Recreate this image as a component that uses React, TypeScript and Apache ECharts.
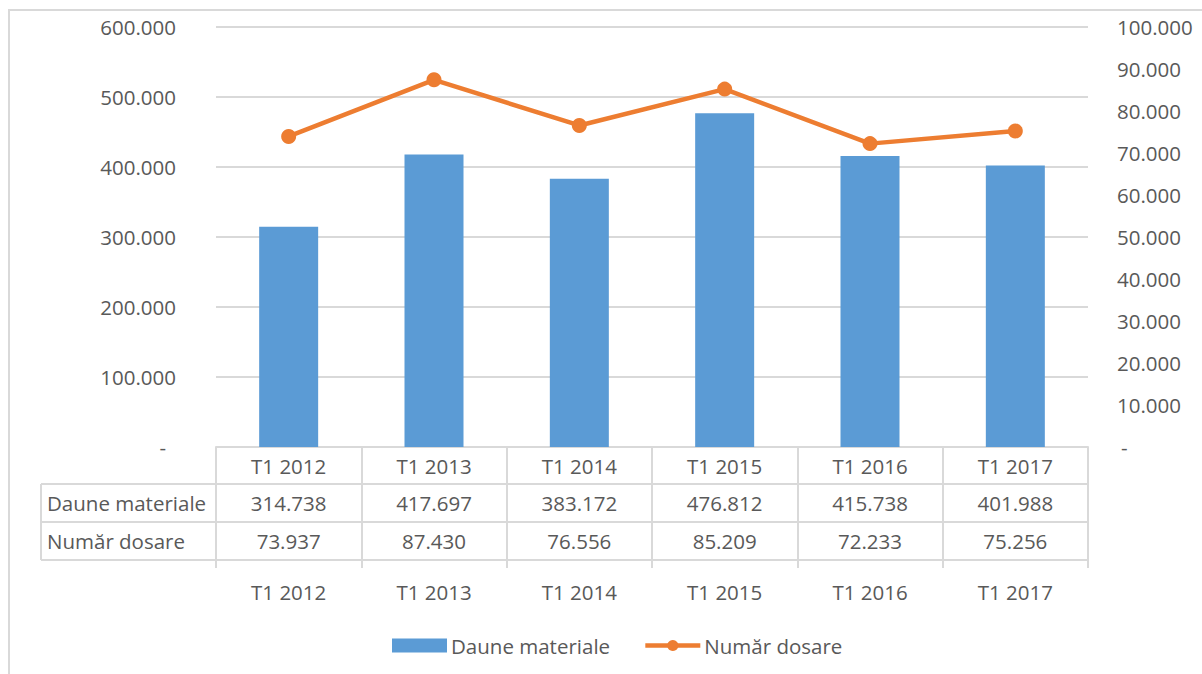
import React, { useEffect, useRef } from "react";
import * as echarts from "echarts";

const categories = ["T1 2012", "T1 2013", "T1 2014", "T1 2015", "T1 2016", "T1 2017"];
const dauneMateriale = [314738, 417697, 383172, 476812, 415738, 401988];
const numarDosare = [73937, 87430, 76556, 85209, 72233, 75256];
const rowLabels = ["Daune materiale", "Număr dosare"];

const FONT = "'Open Sans', 'Noto Sans', sans-serif";
const TXT = "#595959";
const LINE = "#d9d9d9";
const FS = 20.5;

const fmt = (v: number) =>
  String(Math.round(v)).replace(/\B(?=(\d{3})+(?!\d))/g, ".");

export default function App() {
  const ref = useRef<HTMLDivElement>(null);
  useEffect(() => {
    if (!ref.current) return;
    const chart = echarts.init(ref.current, undefined, { renderer: "svg" });
    const gridLeft = 216;
    const gridRight = 1088;
    const gridTop = 27;
    const gridBottom = 447;
    const hLine = (y: number, x1: number, x2: number) => ({
      type: "line",
      shape: { x1, y1: y, x2, y2: y },
      style: { stroke: LINE, lineWidth: 2 },
      silent: true,
    });
    chart.setOption({
      animation: false,
      textStyle: { fontFamily: FONT },
      grid: {
        left: gridLeft,
        top: gridTop,
        width: gridRight - gridLeft,
        height: gridBottom - gridTop,
        containLabel: false,
      },
      legend: {
        left: 387,
        top: 630,
        itemWidth: 55,
        itemHeight: 14,
        itemGap: 33,
        textStyle: { color: TXT, fontSize: FS, fontFamily: FONT, padding: [0, 0, 0, -1] },
        data: [
          { name: rowLabels[0], icon: "rect" },
          { name: rowLabels[1], lineStyle: { width: 4.5, color: "#ED7D31" } },
        ],
      },
      xAxis: [
        {
          type: "category",
          data: categories,
          position: "bottom",
          boundaryGap: true,
          axisLine: { show: true, lineStyle: { color: LINE, width: 2 } },
          axisTick: {
            show: true,
            alignWithLabel: false,
            length: 121,
            lineStyle: { color: LINE, width: 2 },
          },
          axisLabel: {
            margin: 0,
            color: TXT,
            fontSize: FS,
            fontFamily: FONT,
            lineHeight: 37.6,
            interval: 0,
            formatter: (val: string, idx: number) =>
              `${val}\n${fmt(dauneMateriale[idx])}\n${fmt(numarDosare[idx])}`,
          },
          splitLine: { show: false },
        },
        {
          type: "category",
          data: categories,
          position: "bottom",
          offset: 0,
          axisLine: { show: false },
          axisTick: { show: false },
          axisLabel: {
            margin: 134,
            color: TXT,
            fontSize: FS,
            fontFamily: FONT,
            interval: 0,
          },
        },
      ],
      yAxis: [
        {
          type: "value",
          min: 0,
          max: 600000,
          interval: 100000,
          axisLine: { show: false },
          axisTick: { show: false },
          splitLine: { lineStyle: { color: LINE, width: 2 } },
          axisLabel: {
            margin: 40,
            color: TXT,
            fontSize: FS,
            fontFamily: FONT,
            formatter: (v: number) => (v === 0 ? "{d|-}" : fmt(v)),
            rich: { d: { color: TXT, fontSize: FS, fontFamily: FONT, padding: [0, 10, 0, 0] } },
          },
        },
        {
          type: "value",
          min: 0,
          max: 100000,
          interval: 10000,
          position: "right",
          axisLine: { show: false },
          axisTick: { show: false },
          splitLine: { show: false },
          axisLabel: {
            margin: 29,
            color: TXT,
            fontSize: FS,
            fontFamily: FONT,
            formatter: (v: number) => (v === 0 ? "{d|-}" : fmt(v)),
            rich: { d: { color: TXT, fontSize: FS, fontFamily: FONT, padding: [0, 0, 0, 4] } },
          },
        },
      ],
      series: [
        {
          name: rowLabels[0],
          type: "bar",
          data: dauneMateriale,
          barWidth: 59,
          itemStyle: { color: "#5B9BD5" },
          yAxisIndex: 0,
        },
        {
          name: rowLabels[1],
          type: "line",
          data: numarDosare,
          yAxisIndex: 1,
          symbol: "circle",
          symbolSize: 15,
          lineStyle: { color: "#ED7D31", width: 4.5 },
          itemStyle: { color: "#ED7D31" },
        },
      ],
      graphic: [
        {
          type: "rect",
          shape: { x: 9, y: 10, width: 1300, height: 800 },
          style: { fill: "none", stroke: LINE, lineWidth: 2 },
          silent: true,
          z: -10,
        },
        hLine(484, 41, gridRight),
        hLine(522, 41, gridRight),
        hLine(560, 41, gridRight),
        {
          type: "line",
          shape: { x1: 41, y1: 484, x2: 41, y2: 560 },
          style: { stroke: LINE, lineWidth: 2 },
          silent: true,
        },
        {
          type: "text",
          x: 47,
          y: 503,
          style: {
            text: rowLabels[0],
            fill: TXT,
            font: `${FS}px ${FONT}`,
            verticalAlign: "middle",
          },
        },
        {
          type: "text",
          x: 47,
          y: 541,
          style: {
            text: rowLabels[1],
            fill: TXT,
            font: `${FS}px ${FONT}`,
            verticalAlign: "middle",
          },
        },
      ],
    });
    return () => chart.dispose();
  }, []);
  return (
    <div
      ref={ref}
      style={{ position: "fixed", left: 0, top: 0, width: 1202, height: 674, background: "#fff" }}
    />
  );
}
